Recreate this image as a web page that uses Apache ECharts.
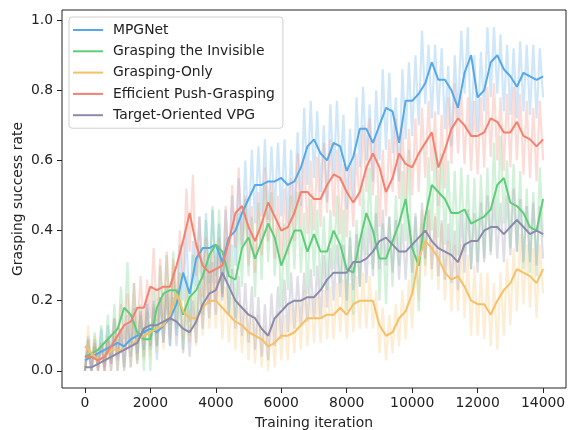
<!DOCTYPE html>
<html>
<head>
<meta charset="utf-8">
<script src="https://cdn.jsdelivr.net/npm/echarts@6/dist/echarts.min.js"></script>
<style>
  html, body { margin: 0; padding: 0; background: #fff; }
  #chart { width: 569px; height: 430px; }
</style>
</head>
<body>
<div id="chart"></div>
<script>
/* 训练曲线：平滑线每 200 次迭代一个点，原始(浅色)线每 100 次一个点 */
var smoothStep = 200;
var rawStep = 100;
var xTicks = [0, 2000, 4000, 6000, 8000, 10000, 12000, 14000];
var yTicks = [0.0, 0.2, 0.4, 0.6, 0.8, 1.0];

var names = ['MPGNet', 'Grasping the Invisible', 'Grasping-Only', 'Efficient Push-Grasping', 'Target-Oriented VPG'];
var colors = ['#56a8e8', '#5fcd78', '#f7c066', '#f5806e', '#8c8aaa'];

/* MPGNet */
var mpgSmooth = [0.03,0.04,0.05,0.06,0.07,0.08,0.07,0.09,0.10,0.11,
  0.12,0.11,0.13,0.15,0.19,0.28,0.22,0.32,0.35,0.35,
  0.36,0.31,0.38,0.40,0.45,0.49,0.53,0.53,0.54,0.54,
  0.55,0.53,0.54,0.58,0.64,0.66,0.62,0.60,0.65,0.64,
  0.57,0.61,0.69,0.69,0.65,0.70,0.75,0.74,0.65,0.77,
  0.77,0.79,0.82,0.88,0.83,0.83,0.80,0.75,0.85,0.90,
  0.78,0.80,0.88,0.90,0.86,0.84,0.81,0.85,0.84,0.83,0.84];
var mpgRaw = [0.00,0.10,0.00,0.09,0.02,0.12,0.01,0.13,0.02,0.15,
  0.03,0.12,0.00,0.16,0.04,0.18,0.05,0.16,0.04,0.20,
  0.06,0.18,0.03,0.21,0.08,0.24,0.07,0.28,0.10,0.36,
  0.20,0.40,0.14,0.37,0.24,0.44,0.26,0.45,0.25,0.46,
  0.27,0.42,0.21,0.46,0.28,0.50,0.30,0.55,0.35,0.60,
  0.38,0.63,0.42,0.64,0.44,0.66,0.43,0.64,0.45,0.65,
  0.44,0.66,0.42,0.63,0.44,0.68,0.47,0.75,0.53,0.77,
  0.55,0.74,0.51,0.70,0.48,0.76,0.55,0.77,0.54,0.73,
  0.46,0.69,0.49,0.78,0.58,0.81,0.60,0.76,0.54,0.80,
  0.60,0.86,0.63,0.85,0.62,0.78,0.54,0.86,0.66,0.88,
  0.67,0.90,0.70,0.97,0.76,0.93,0.72,0.93,0.73,0.92,
  0.69,0.87,0.64,0.90,0.72,0.97,0.79,0.98,0.67,0.90,
  0.68,0.91,0.74,0.98,0.78,0.98,0.79,0.96,0.74,0.93,
  0.73,0.92,0.72,0.94,0.74,0.93,0.73,0.93,0.72,0.92,0.78];

/* Grasping the Invisible */
var gtiSmooth = [0.04,0.05,0.06,0.08,0.10,0.12,0.18,0.16,0.11,0.09,
  0.09,0.18,0.22,0.23,0.23,0.16,0.21,0.23,0.27,0.33,
  0.36,0.34,0.27,0.26,0.35,0.38,0.32,0.37,0.42,0.38,
  0.30,0.35,0.40,0.40,0.34,0.39,0.34,0.34,0.40,0.36,
  0.29,0.28,0.37,0.45,0.40,0.32,0.32,0.37,0.42,0.49,
  0.35,0.30,0.44,0.53,0.51,0.49,0.45,0.45,0.46,0.42,
  0.43,0.44,0.46,0.53,0.55,0.48,0.47,0.45,0.41,0.40,0.49];
var gtiRaw = [0.00,0.09,0.00,0.11,0.01,0.13,0.02,0.16,0.03,0.19,
  0.05,0.24,0.09,0.31,0.07,0.25,0.03,0.19,0.00,0.17,
  0.00,0.23,0.07,0.30,0.12,0.33,0.13,0.34,0.12,0.28,
  0.06,0.27,0.10,0.33,0.13,0.36,0.16,0.43,0.22,0.47,
  0.25,0.46,0.22,0.38,0.16,0.36,0.15,0.45,0.24,0.49,
  0.27,0.44,0.21,0.48,0.26,0.53,0.31,0.51,0.27,0.42,
  0.18,0.42,0.23,0.50,0.29,0.51,0.28,0.45,0.22,0.49,
  0.27,0.46,0.23,0.44,0.23,0.46,0.29,0.50,0.25,0.46,
  0.17,0.40,0.16,0.43,0.24,0.53,0.33,0.58,0.29,0.50,
  0.20,0.42,0.19,0.44,0.24,0.50,0.30,0.57,0.37,0.63,
  0.22,0.44,0.17,0.42,0.30,0.61,0.40,0.64,0.38,0.62,
  0.36,0.60,0.33,0.57,0.33,0.58,0.34,0.56,0.29,0.55,
  0.31,0.56,0.32,0.58,0.34,0.65,0.40,0.67,0.42,0.60,
  0.35,0.59,0.34,0.57,0.29,0.52,0.28,0.51,0.27,0.58,0.38];

/* Grasping-Only */
var goSmooth = [0.07,0.05,0.03,0.04,0.06,0.06,0.06,0.07,0.09,0.10,
  0.11,0.12,0.13,0.16,0.22,0.17,0.15,0.15,0.18,0.20,
  0.20,0.18,0.16,0.14,0.13,0.11,0.10,0.09,0.07,0.08,
  0.10,0.10,0.11,0.13,0.15,0.15,0.15,0.16,0.16,0.18,
  0.16,0.19,0.20,0.20,0.20,0.13,0.10,0.11,0.15,0.17,
  0.22,0.32,0.37,0.35,0.32,0.28,0.26,0.27,0.24,0.20,
  0.19,0.19,0.16,0.20,0.23,0.25,0.29,0.28,0.27,0.25,0.29];
var goRaw = [0.00,0.13,0.02,0.10,0.00,0.08,0.00,0.09,0.00,0.11,
  0.00,0.12,0.00,0.13,0.01,0.15,0.02,0.17,0.03,0.18,
  0.04,0.19,0.05,0.21,0.06,0.24,0.09,0.30,0.14,0.28,
  0.09,0.24,0.08,0.22,0.07,0.24,0.10,0.27,0.12,0.29,
  0.12,0.27,0.09,0.24,0.08,0.21,0.06,0.20,0.05,0.18,
  0.03,0.17,0.02,0.16,0.01,0.13,0.00,0.14,0.01,0.17,
  0.03,0.16,0.03,0.19,0.05,0.20,0.06,0.23,0.07,0.22,
  0.08,0.22,0.08,0.23,0.09,0.24,0.09,0.25,0.11,0.26,
  0.09,0.25,0.11,0.27,0.12,0.28,0.12,0.27,0.12,0.23,
  0.05,0.18,0.03,0.16,0.05,0.19,0.07,0.23,0.09,0.26,
  0.12,0.33,0.20,0.46,0.27,0.49,0.26,0.45,0.23,0.42,
  0.20,0.37,0.17,0.36,0.17,0.36,0.15,0.33,0.10,0.30,
  0.10,0.28,0.09,0.28,0.07,0.25,0.06,0.28,0.10,0.32,
  0.13,0.35,0.17,0.39,0.19,0.36,0.18,0.35,0.15,0.36,0.22];

/* Efficient Push-Grasping */
var epgSmooth = [0.04,0.04,0.03,0.04,0.07,0.10,0.13,0.14,0.18,0.18,
  0.24,0.23,0.24,0.24,0.30,0.37,0.45,0.36,0.30,0.28,
  0.29,0.30,0.37,0.45,0.47,0.41,0.37,0.42,0.48,0.44,
  0.40,0.41,0.45,0.51,0.51,0.49,0.49,0.53,0.56,0.55,
  0.51,0.48,0.51,0.58,0.62,0.58,0.51,0.55,0.62,0.59,
  0.58,0.62,0.65,0.68,0.58,0.63,0.69,0.72,0.70,0.67,
  0.67,0.68,0.72,0.71,0.68,0.68,0.71,0.67,0.66,0.64,0.66];
var epgRaw = [0.00,0.09,0.00,0.08,0.00,0.07,0.00,0.10,0.02,0.15,
  0.04,0.19,0.06,0.22,0.08,0.25,0.10,0.27,0.11,0.26,
  0.15,0.35,0.14,0.32,0.15,0.34,0.14,0.32,0.19,0.40,
  0.27,0.52,0.34,0.56,0.27,0.44,0.21,0.38,0.19,0.36,
  0.20,0.38,0.21,0.47,0.27,0.53,0.35,0.58,0.36,0.50,
  0.30,0.47,0.28,0.51,0.33,0.58,0.37,0.54,0.32,0.50,
  0.31,0.52,0.33,0.55,0.37,0.62,0.40,0.61,0.39,0.60,
  0.40,0.61,0.41,0.65,0.45,0.66,0.44,0.63,0.39,0.59,
  0.38,0.58,0.41,0.62,0.47,0.70,0.51,0.72,0.50,0.67,
  0.41,0.63,0.44,0.66,0.51,0.72,0.49,0.70,0.49,0.69,
  0.50,0.72,0.51,0.75,0.55,0.77,0.57,0.74,0.47,0.73,
  0.52,0.78,0.59,0.82,0.62,0.80,0.59,0.78,0.57,0.77,
  0.56,0.78,0.58,0.81,0.61,0.82,0.60,0.78,0.57,0.79,
  0.58,0.81,0.60,0.79,0.56,0.77,0.55,0.75,0.54,0.77,0.60];

/* Target-Oriented VPG */
var tovSmooth = [0.01,0.01,0.02,0.03,0.04,0.05,0.06,0.07,0.08,0.12,
  0.13,0.13,0.14,0.15,0.14,0.12,0.11,0.14,0.19,0.22,
  0.23,0.28,0.24,0.20,0.18,0.16,0.15,0.12,0.10,0.15,
  0.17,0.19,0.20,0.20,0.21,0.21,0.23,0.26,0.28,0.28,
  0.28,0.31,0.31,0.32,0.34,0.37,0.38,0.36,0.34,0.34,
  0.36,0.38,0.40,0.37,0.35,0.34,0.33,0.31,0.36,0.37,
  0.37,0.40,0.41,0.41,0.39,0.41,0.43,0.41,0.39,0.40,0.39];
var tovRaw = [0.00,0.06,0.00,0.07,0.00,0.08,0.00,0.09,0.00,0.10,
  0.00,0.12,0.01,0.13,0.01,0.14,0.02,0.17,0.06,0.19,
  0.07,0.20,0.07,0.21,0.08,0.22,0.07,0.21,0.07,0.20,
  0.05,0.18,0.04,0.20,0.08,0.26,0.12,0.30,0.15,0.31,
  0.16,0.36,0.20,0.34,0.16,0.29,0.12,0.27,0.10,0.25,
  0.08,0.24,0.06,0.21,0.04,0.19,0.03,0.22,0.07,0.24,
  0.09,0.26,0.11,0.28,0.12,0.27,0.13,0.28,0.14,0.29,
  0.15,0.30,0.15,0.33,0.18,0.35,0.20,0.36,0.21,0.36,
  0.20,0.38,0.23,0.39,0.24,0.40,0.25,0.42,0.27,0.45,
  0.29,0.46,0.30,0.44,0.28,0.43,0.26,0.42,0.26,0.43,
  0.28,0.45,0.30,0.48,0.32,0.46,0.29,0.44,0.27,0.43,
  0.26,0.42,0.25,0.40,0.23,0.45,0.28,0.46,0.29,0.45,
  0.28,0.48,0.31,0.50,0.33,0.49,0.32,0.48,0.31,0.50,
  0.33,0.52,0.34,0.49,0.31,0.47,0.31,0.48,0.30,0.47,0.32];

var smoothArr = [mpgSmooth, gtiSmooth, goSmooth, epgSmooth, tovSmooth];
var rawArr = [mpgRaw, gtiRaw, goRaw, epgRaw, tovRaw];

/* 把数组转换成 [迭代次数, 值] 的点 */
function toPoints(arr, step) {
    var pts = [];
    for (var i = 0; i < arr.length; i++) {
        pts.push([i * step, arr[i]]);
    }
    return pts;
}

var series = [];
/* 先画浅色原始曲线 */
for (var k = 0; k < names.length; k++) {
    series.push({
        name: names[k] + ' raw',
        type: 'line',
        data: toPoints(rawArr[k], rawStep),
        symbol: 'none',
        silent: true,
        lineStyle: { color: colors[k], width: 2.2, opacity: 0.28 },
        itemStyle: { color: colors[k] },
        z: 2
    });
}
/* 再画平滑曲线 */
for (var k = 0; k < names.length; k++) {
    series.push({
        name: names[k],
        type: 'line',
        data: toPoints(smoothArr[k], smoothStep),
        symbol: 'none',
        lineStyle: { color: colors[k], width: 2 },
        itemStyle: { color: colors[k] },
        z: 3
    });
}

var font = 'DejaVu Sans';
var fs = 13.9;
var myChart = echarts.init(document.getElementById('chart'), null, { renderer: 'canvas' });
var option = {
    animation: false,
    backgroundColor: '#fff',
    grid: {
        left: 62, top: 10, width: 504, height: 378,
        outerBoundsMode: 'none',
        show: true, borderColor: '#222', borderWidth: 1, backgroundColor: 'transparent'
    },
    legend: {
        data: names,
        orient: 'vertical',
        left: 69, top: 17,
        padding: [6, 8, 6, 4],
        icon: 'rect',
        itemWidth: 30, itemHeight: 2, itemGap: 7.3,
        backgroundColor: '#fff',
        borderColor: '#d0d0d0', borderWidth: 1, borderRadius: 3,
        textStyle: { fontFamily: font, fontSize: fs, lineHeight: 14, color: '#222', padding: [0, 0, 0, 5] }
    },
    xAxis: {
        type: 'value',
        min: -700, max: 14700,
        name: 'Training iteration',
        nameLocation: 'middle',
        nameGap: 28,
        nameTextStyle: { fontFamily: font, fontSize: fs, color: '#222' },
        axisLine: { show: false, onZero: false },
        axisTick: { show: true, inside: false, length: 5, customValues: xTicks, lineStyle: { color: '#222' } },
        axisLabel: {
            customValues: xTicks, margin: 8, fontFamily: font, fontSize: fs, color: '#222',
            formatter: function (v) { return String(v); }
        },
        splitLine: { show: false }
    },
    yAxis: {
        type: 'value',
        min: -0.049, max: 1.029,
        name: 'Grasping success rate',
        nameLocation: 'middle',
        nameGap: 37,
        nameMoveOverlap: false,
        nameTextStyle: { fontFamily: font, fontSize: fs, color: '#222' },
        axisLine: { show: false, onZero: false },
        axisTick: { show: true, inside: false, length: 5, customValues: yTicks, lineStyle: { color: '#222' } },
        axisLabel: {
            customValues: yTicks, margin: 9, fontFamily: font, fontSize: fs, color: '#222',
            formatter: function (v) { return v.toFixed(1); }
        },
        splitLine: { show: false }
    },
    series: series
};
myChart.setOption(option);
</script>
</body>
</html>
